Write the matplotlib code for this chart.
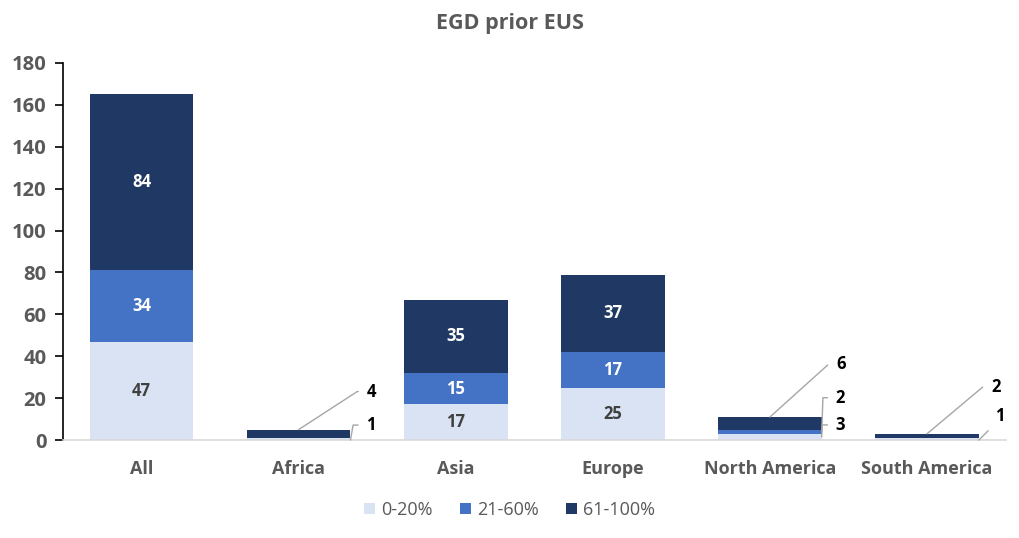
import matplotlib
matplotlib.use("Agg")
import matplotlib.pyplot as plt
import numpy as np

categories = ["All", "Africa", "Asia", "Europe", "North America", "South America"]
low = [47, 1, 17, 25, 3, 1]        # 0-20%
mid = [34, 0, 15, 17, 2, 0]        # 21-60%
high = [84, 4, 35, 37, 6, 2]       # 61-100%
series_names = ["0-20%", "21-60%", "61-100%"]
colors = ["#DAE3F3", "#4472C4", "#203864"]
yticks = [0, 20, 40, 60, 80, 100, 120, 140, 160, 180]

plt.rcParams['font.family'] = ['Open Sans', 'DejaVu Sans']
gray = "#595959"

fig = plt.figure(figsize=(10.19, 5.38), dpi=100)
ax = fig.add_axes([0.0618, 0.182, 0.925, 0.701])

x = np.arange(len(categories))
w = 0.66
b1 = ax.bar(x, low, w, color=colors[0], label=series_names[0])
b2 = ax.bar(x, mid, w, bottom=low, color=colors[1], label=series_names[1])
bot3 = np.array(low) + np.array(mid)
b3 = ax.bar(x, high, w, bottom=bot3, color=colors[2], label=series_names[2])

ax.set_xlim(-0.5, len(categories) - 0.5)
ax.set_ylim(0, 180)
ax.set_yticks(yticks)
ax.set_xticks(x)
ax.set_xticklabels(categories)
for lab in ax.get_xticklabels():
    lab.set_fontweight("bold")
    lab.set_color(gray)
    lab.set_fontsize(13)
for lab in ax.get_yticklabels():
    lab.set_fontweight("bold")
    lab.set_color(gray)
    lab.set_fontsize(14.5)

for s in ["top", "right"]:
    ax.spines[s].set_visible(False)
ax.spines["left"].set_color("black")
ax.spines["left"].set_linewidth(1.2)
ax.spines["bottom"].set_color("#D9D9D9")
ax.spines["bottom"].set_linewidth(1.2)
ax.tick_params(axis="y", direction="out", length=6, width=1.2, color="black", pad=6)
ax.tick_params(axis="x", length=0, pad=14)

big = [0, 2, 3]
for i in big:
    ax.text(x[i], low[i] / 2, str(low[i]), ha="center", va="center",
            fontsize=12, fontweight="bold", color="#404040")
    ax.text(x[i], low[i] + mid[i] / 2, str(mid[i]), ha="center", va="center",
            fontsize=12, fontweight="bold", color="white")
    ax.text(x[i], bot3[i] + high[i] / 2, str(high[i]), ha="center", va="center",
            fontsize=12, fontweight="bold", color="white")

# leader-line labels for small bars (offsets in pixels -> points)
px = 0.72
def leader(xd, yd, dx, dy, text, angle):
    ax.annotate(text, xy=(xd, yd), xycoords="data",
                xytext=(dx * px, dy * px), textcoords="offset points",
                ha="left", va="center", fontsize=12, fontweight="bold", color="black",
                arrowprops=dict(arrowstyle="-", color="#A6A6A6", lw=1,
                                shrinkA=4, shrinkB=0,
                                connectionstyle="angle,angleA=0,angleB=%d,rad=0" % angle))

hw = w / 2
# Africa
leader(x[1], bot3[1] + high[1], 68, 38, str(high[1]), 33)
leader(x[1] + hw, 0, 16, 15, str(low[1]), 80)
# North America
leader(x[4], bot3[4] + high[4], 66, 53, str(high[4]), 42)
leader(x[4] + hw, low[4] + mid[4] / 2, 14, 34, str(mid[4]), 88)
leader(x[4] + hw, low[4] / 2, 14, 12, str(low[4]), 88)
# South America
leader(x[5], bot3[5] + high[5], 64, 47, str(high[5]), 40)
leader(x[5] + hw, 0, 16, 24, str(low[5]), 45)

fig.suptitle("EGD prior EUS", y=0.975, fontsize=15.5, color=gray, fontweight="bold")

leg = fig.legend(handles=[b1, b2, b3], labels=series_names, loc="center",
                 bbox_to_anchor=(0.5, 0.052), ncol=3, frameon=False,
                 fontsize=13, handlelength=0.6, handleheight=0.6,
                 handletextpad=0.35, columnspacing=1.5)
for t in leg.get_texts():
    t.set_color(gray)

fig.savefig("out.png", dpi=100)
